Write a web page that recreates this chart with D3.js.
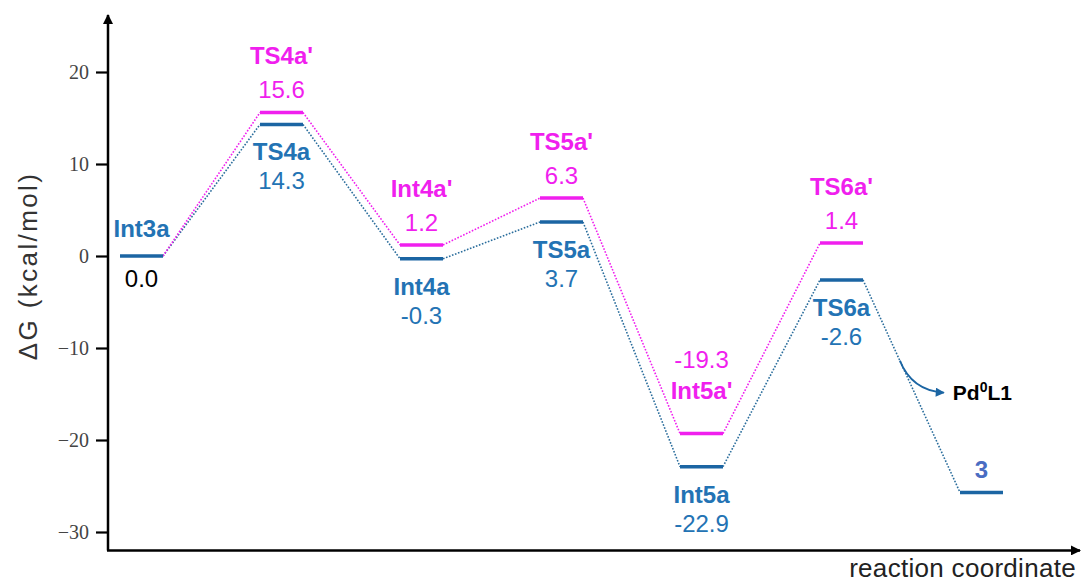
<!DOCTYPE html>
<html lang="en">
<head>
<meta charset="UTF-8">
<title>Free energy profile</title>
<script src="https://cdn.jsdelivr.net/npm/d3@7"></script>
<style>
  body { margin:0; background:#fff; }
  svg { display:block; font-family:'Liberation Sans', Arial, sans-serif; }
  .tick text { font-family:'Liberation Serif', 'Times New Roman', serif; font-size:20px; fill:#444; }
</style>
</head>
<body>
<svg id="chart" width="1081" height="584"></svg>
<script>
// ---- data ----
const categories = ["Int3a", "TS4a", "Int4a", "TS5a", "Int5a", "TS6a", "3"];
const blueNames  = ["Int3a", "TS4a", "Int4a", "TS5a", "Int5a", "TS6a", "3"];
const blueValues = [0.0, 14.3, -0.3, 3.7, -22.9, -2.6, -25.7];
const pinkNames  = ["", "TS4a'", "Int4a'", "TS5a'", "Int5a'", "TS6a'"];
const pinkValues = [0.0, 15.6, 1.2, 6.3, -19.3, 1.4];
const yTicks = [-30, -20, -10, 0, 10, 20];

const BLUE = "#1b65a3", BLUE_TXT = "#2373b4", PINK = "#f01fee";

const svg = d3.select("#chart");

let x = d3.scalePoint().domain(categories).range([141.5, 981.5]);
let y = d3.scaleLinear().domain([-30, 20]).range([532, 72]);
const halfW = 21.5;
const yBottom = -32, yTop = 26.2;

// axes
let yAxis = d3.axisLeft(y).tickValues(yTicks).tickSize(12).tickPadding(7);
svg.append("g").attr("transform", "translate(108,0)").call(yAxis)
  .call(g => g.select(".domain").remove())
  .call(g => g.selectAll(".tick line").attr("stroke", "#000").attr("stroke-width", 2.2));

svg.append("defs").append("marker")
  .attr("id", "ax").attr("viewBox", "0 0 10 10").attr("refX", 9).attr("refY", 5)
  .attr("markerWidth", 4).attr("markerHeight", 4).attr("orient", "auto")
  .append("path").attr("d", "M0,0L10,5L0,10z").attr("fill", "#000");
svg.select("defs").append("marker")
  .attr("id", "bluearrow").attr("viewBox", "0 0 10 10").attr("refX", 9).attr("refY", 5)
  .attr("markerWidth", 7).attr("markerHeight", 5).attr("orient", "auto")
  .append("path").attr("d", "M0,0L10,5L0,10z").attr("fill", BLUE);

svg.append("line").attr("x1", 108).attr("x2", 108)
  .attr("y1", y(yBottom)).attr("y2", y(yTop))
  .attr("stroke", "#000").attr("stroke-width", 2.5).attr("marker-end", "url(#ax)");
svg.append("line").attr("x1", 107).attr("x2", 1080)
  .attr("y1", y(yBottom)).attr("y2", y(yBottom))
  .attr("stroke", "#000").attr("stroke-width", 2.5).attr("marker-end", "url(#ax)");

svg.append("text").attr("transform", "translate(37,266) rotate(-90)")
  .attr("text-anchor", "middle").attr("font-size", 26).attr("letter-spacing", 2.4)
  .attr("fill", "#333").text("ΔG (kcal/mol)");
svg.append("text").attr("x", 1076).attr("y", 577).attr("text-anchor", "end")
  .attr("font-size", 26).attr("letter-spacing", 0.3).attr("fill", "#222")
  .text("reaction coordinate");

// connectors
function connectors(vals, color) {
  for (let i = 0; i < vals.length - 1; i++) {
    svg.append("line")
      .attr("x1", x(categories[i]) + halfW).attr("y1", y(vals[i]))
      .attr("x2", x(categories[i + 1]) - halfW).attr("y2", y(vals[i + 1]))
      .attr("stroke", color).attr("stroke-width", 1.6).attr("stroke-dasharray", "1.6,1.6");
  }
}
connectors(blueValues, "#2a6d9c");
connectors(pinkValues, PINK);

// levels
svg.selectAll(".lvlB").data(blueValues).join("line").attr("class", "lvlB")
  .attr("x1", (d, i) => x(categories[i]) - halfW).attr("x2", (d, i) => x(categories[i]) + halfW)
  .attr("y1", d => y(d)).attr("y2", d => y(d))
  .attr("stroke", BLUE).attr("stroke-width", 3.5);
svg.selectAll(".lvlP").data(pinkValues.slice(1)).join("line").attr("class", "lvlP")
  .attr("x1", (d, i) => x(categories[i + 1]) - halfW).attr("x2", (d, i) => x(categories[i + 1]) + halfW)
  .attr("y1", d => y(d)).attr("y2", d => y(d))
  .attr("stroke", PINK).attr("stroke-width", 3.5);

function label(cx, cy, txt, color, bold, size) {
  svg.append("text").attr("x", cx).attr("y", cy).attr("text-anchor", "middle")
    .attr("font-size", size || 24).attr("font-weight", bold ? "bold" : "normal")
    .attr("fill", color).text(txt);
}

// blue labels
blueValues.forEach((v, i) => {
  const cx = x(categories[i]), cy = y(v);
  if (i === 0) {
    label(cx, cy - 19, blueNames[i], BLUE_TXT, true);
    label(cx, cy + 31, v.toFixed(1), "#000", false);
  } else if (i === blueValues.length - 1) {
    label(cx, cy - 14, blueNames[i], "#4a6cc2", true);
  } else {
    label(cx, cy + 36, blueNames[i], BLUE_TXT, true);
    label(cx, cy + 65, v.toFixed(1), BLUE_TXT, false);
  }
});

// pink labels
pinkValues.forEach((v, i) => {
  if (i === 0) return;
  const cx = x(categories[i]), cy = y(v);
  if (v < -10) {
    label(cx, cy - 66, v.toFixed(1), PINK, false);
    label(cx, cy - 35, pinkNames[i], PINK, true);
  } else {
    label(cx, cy - 14, v.toFixed(1), PINK, false);
    label(cx, cy - 48, pinkNames[i], PINK, true);
  }
});

// Pd0L1 release arrow, starting on the TS6a -> 3 connector
const n = categories.length;
const ax0 = x(categories[n - 2]) + halfW, ay0 = y(blueValues[n - 2]);
const ax1 = x(categories[n - 1]) - halfW, ay1 = y(blueValues[n - 1]);
const t = 0.38;
const sx = ax0 + t * (ax1 - ax0), sy = ay0 + t * (ay1 - ay0);
const p = d3.path();
p.moveTo(sx, sy);
p.quadraticCurveTo(sx + 12, sy + 30, sx + 44, sy + 32);
svg.append("path").attr("d", p.toString()).attr("fill", "none")
  .attr("stroke", BLUE).attr("stroke-width", 1.8).attr("marker-end", "url(#bluearrow)");
const pd = svg.append("text").attr("x", sx + 53).attr("y", sy + 39)
  .attr("font-size", 21).attr("font-weight", "bold").attr("fill", "#000");
pd.append("tspan").text("Pd");
pd.append("tspan").attr("font-size", 14).attr("dy", -8).text("0");
pd.append("tspan").attr("dy", 8).text("L1");
</script>
</body>
</html>
